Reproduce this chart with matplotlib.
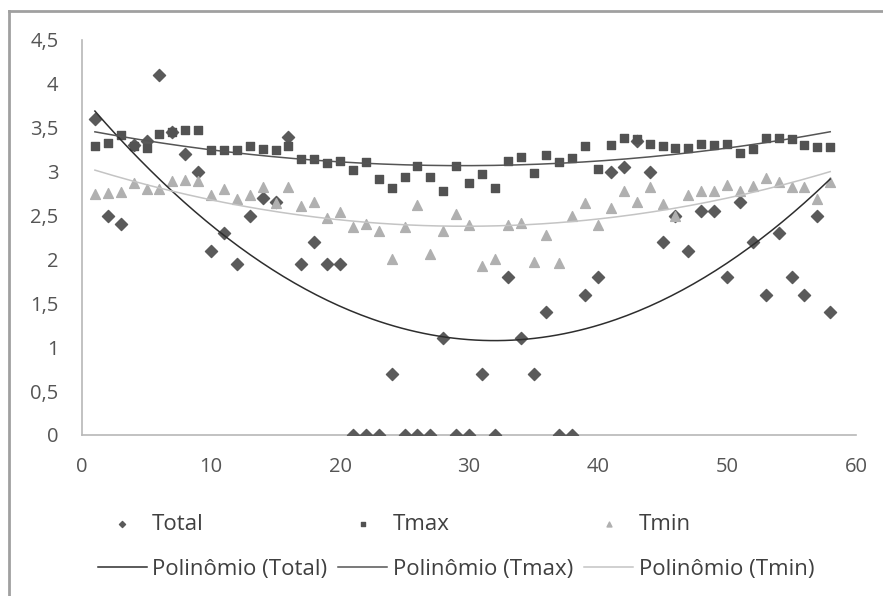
import numpy as np
import matplotlib
matplotlib.use('Agg')
import matplotlib.pyplot as plt
from matplotlib.ticker import FuncFormatter

# data (x = 1..58)
days = list(range(1, 59))
total = [3.6, 2.5, 2.4, 3.3, 3.35, 4.1, 3.45, 3.2, 3.0, 2.1,
         2.3, 1.95, 2.5, 2.7, 2.65, 3.4, 1.95, 2.2, 1.95, 1.95,
         0, 0, 0, 0.7, 0, 0, 0, 1.1, 0, 0,
         0.7, 0, 1.8, 1.1, 0.7, 1.4, 0, 0, 1.6, 1.8,
         3.0, 3.05, 3.35, 3.0, 2.2, 2.5, 2.1, 2.55, 2.55, 1.8,
         2.65, 2.2, 1.6, 2.3, 1.8, 1.6, 2.5, 1.4]
tmax = [3.29, 3.33, 3.42, 3.29, 3.27, 3.43, 3.45, 3.48, 3.48, 3.25,
        3.25, 3.25, 3.29, 3.26, 3.25, 3.29, 3.15, 3.14, 3.10, 3.12,
        3.02, 3.11, 2.92, 2.81, 2.94, 3.06, 2.94, 2.78, 3.06, 2.87,
        2.97, 2.81, 3.12, 3.17, 2.98, 3.19, 3.11, 3.16, 3.29, 3.03,
        3.30, 3.38, 3.37, 3.31, 3.29, 3.27, 3.27, 3.31, 3.30, 3.31,
        3.21, 3.26, 3.38, 3.38, 3.37, 3.30, 3.28, 3.28]
tmin = [2.74, 2.76, 2.77, 2.87, 2.80, 2.80, 2.89, 2.90, 2.89, 2.73,
        2.80, 2.69, 2.73, 2.83, 2.64, 2.82, 2.61, 2.65, 2.47, 2.54,
        2.37, 2.40, 2.32, 2.01, 2.37, 2.62, 2.06, 2.32, 2.52, 2.39,
        1.93, 2.01, 2.39, 2.41, 1.97, 2.28, 1.96, 2.50, 2.64, 2.39,
        2.59, 2.78, 2.66, 2.83, 2.63, 2.49, 2.73, 2.78, 2.78, 2.85,
        2.78, 2.84, 2.93, 2.88, 2.82, 2.83, 2.69, 2.88]

plt.rcParams['font.family'] = ['Open Sans', 'DejaVu Sans']

fig = plt.figure(figsize=(8.83, 5.96), dpi=100)
ax = fig.add_axes([82 / 883, 1 - 435 / 596, (856 - 82) / 883, (435 - 40) / 596])

x = np.array(days)
xs = np.linspace(1, 58, 200)

def trend(y):
    'order 2 polynomial trendline, like the spreadsheet one'
    c = np.polyfit(x, y, 2)
    return np.polyval(c, xs)

# points
h1 = ax.scatter(x, total, marker='D', s=38, color='#5a5a5a', zorder=3, label='Total')
h2 = ax.scatter(x, tmax, marker='s', s=40, color='#525252', zorder=3, label='Tmax')
h3 = ax.scatter(x, tmin, marker='^', s=50, color='#b0b0b0', zorder=3, label='Tmin')

# trendlines
l1, = ax.plot(xs, trend(total), color='#2e2e2e', lw=1.1, zorder=4, label='Polinômio (Total)')
l2, = ax.plot(xs, trend(tmax), color='#555555', lw=1.1, zorder=4, label='Polinômio (Tmax)')
l3, = ax.plot(xs, trend(tmin), color='#c4c4c4', lw=1.1, zorder=4, label='Polinômio (Tmin)')

ax.set_xlim(0, 60)
ax.set_ylim(0, 4.5)
ax.set_xticks(range(0, 61, 10))
ax.set_yticks(np.arange(0, 4.51, 0.5))
ax.yaxis.set_major_formatter(FuncFormatter(lambda v, p: ('%g' % v).replace('.', ',')))
ax.tick_params(length=0, labelsize=14.5, colors='#555555')
ax.tick_params(axis='x', pad=16)
ax.tick_params(axis='y', pad=17)
for s in ['top', 'right']:
    ax.spines[s].set_visible(False)
for s in ['left', 'bottom']:
    ax.spines[s].set_color('#b8b8b8')
    ax.spines[s].set_linewidth(1.2)

# legend below
fig.legend(handles=[h1, l1, h2, l2, h3, l3], ncol=3, loc='center',
           bbox_to_anchor=(456 / 883, 1 - 547 / 596), frameon=False,
           fontsize=16, labelcolor='#404040', handlelength=2.2,
           handletextpad=0.25, columnspacing=0.5, labelspacing=1.1,
           markerscale=0.5)

# outer chart border
fig.add_artist(plt.Line2D([9 / 883, 9 / 883], [0, 1 - 11 / 596], color='#a0a0a0', lw=2,
                          transform=fig.transFigure))
fig.add_artist(plt.Line2D([9 / 883, 1], [1 - 11 / 596, 1 - 11 / 596], color='#a0a0a0', lw=2,
                          transform=fig.transFigure))

fig.savefig('out.png', dpi=100)
